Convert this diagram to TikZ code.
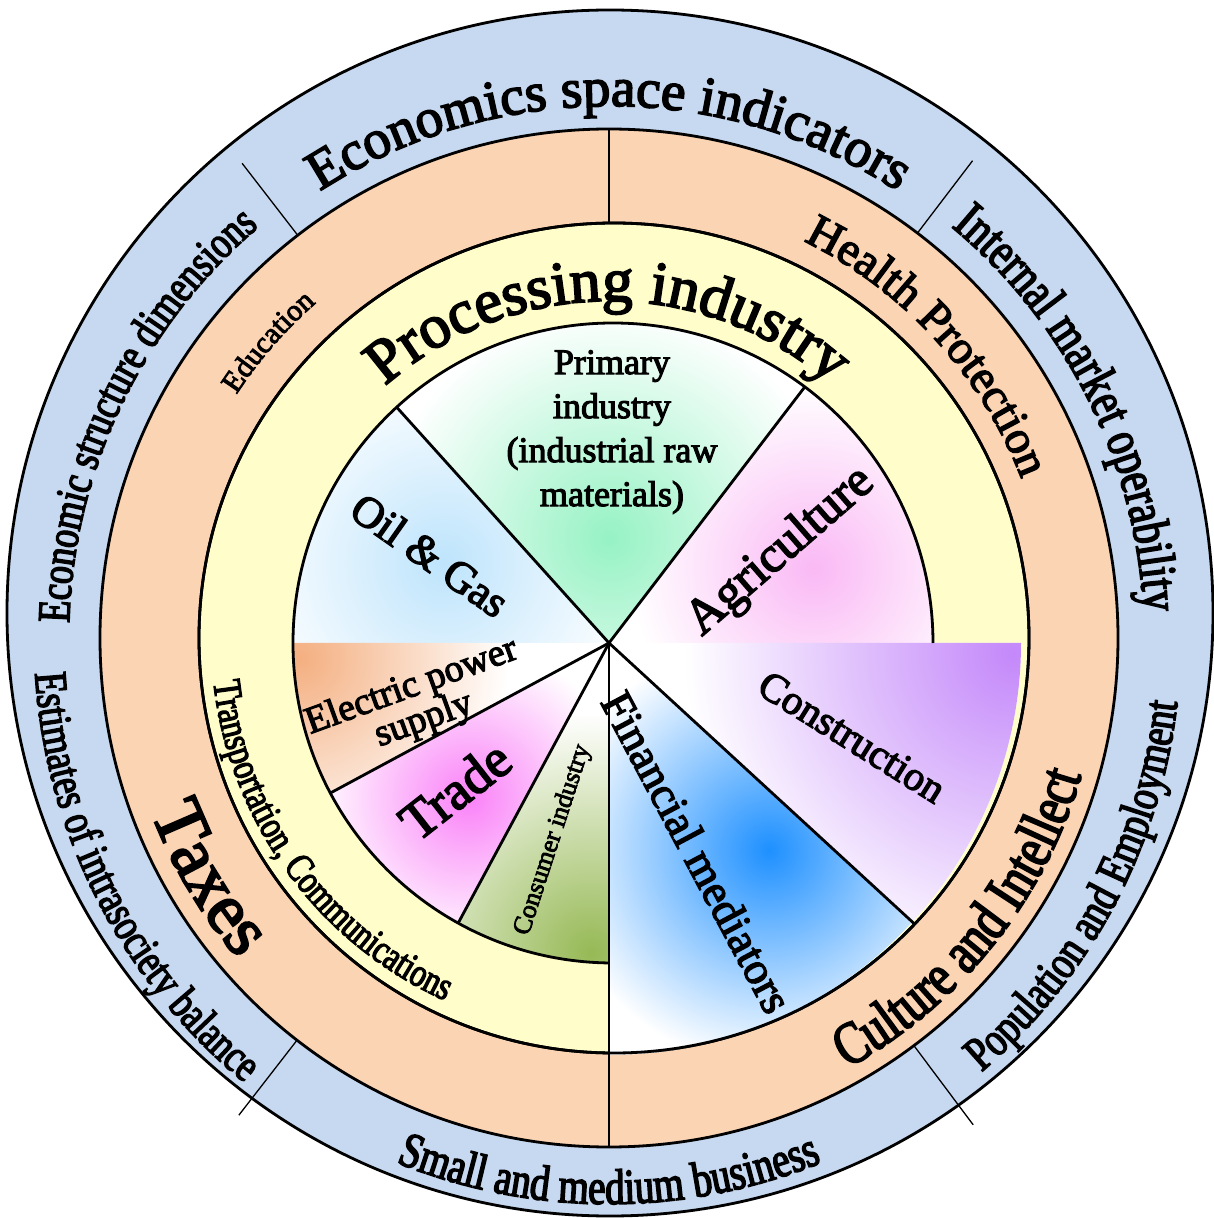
\documentclass[tikz,border=0pt]{standalone}
\usepackage{fontspec}
\setmainfont{Liberation Serif}[FakeBold=3]
\newfontfamily\narrowserif{Liberation Serif}[FakeStretch=0.78, FakeBold=3]
\usetikzlibrary{decorations.text, calc}

\definecolor{ringblue}{RGB}{198,217,240}
\definecolor{ringpeach}{RGB}{251,212,180}
\definecolor{ringyellow}{RGB}{255,253,202}
\definecolor{oilblue}{RGB}{190,228,252}
\definecolor{mintgreen}{RGB}{150,242,196}
\definecolor{agripink}{RGB}{250,185,245}
\definecolor{buildpurple}{RGB}{196,136,250}
\definecolor{financeblue}{RGB}{30,144,255}
\definecolor{oliveleaf}{RGB}{150,185,85}
\definecolor{trademagenta}{RGB}{250,130,248}
\definecolor{poweramber}{RGB}{244,175,128}

\begin{document}
\begin{tikzpicture}[x=1pt, y=1pt,
    ringline/.style={line width=2.8pt},
    sliceline/.style={line width=2.8pt},
    divider/.style={line width=1.3pt},
    arctext/.style={decorate, decoration={text along path, text align=center, text={#1}}},
    slicelabel/.style={font=\fontsize{#1}{#1}\selectfont, inner sep=0pt, align=center}]
    \useasboundingbox (-609,-580) rectangle (604,638);
    \coordinate (C) at (0,0);
    \coordinate (O) at (0,-5);
    \coordinate (Q) at (4,-5);
    \coordinate (Y) at (5,0);
    \coordinate (B) at (1,25);

    % rings
    \filldraw[ringline, fill=ringblue] (B) circle (603);
    \filldraw[ringline, fill=ringpeach] (C) circle (509);
    \filldraw[ringline, fill=ringyellow] (Y) circle (415);
    \fill[white] (Q) circle (320);
    \fill[white] (O) -- ++(-90:412) arc[start angle=-90, end angle=0, radius=412] -- cycle;

    % slices
    \begin{scope}
        \clip (Q) circle (320);
        \clip (O) -- ++(132:600) arc[start angle=132, end angle=180, radius=600] -- cycle;
        \shade[inner color=oilblue, outer color=white] (-165,75) circle (200);
    \end{scope}
    \begin{scope}
        \clip (Q) circle (320);
        \clip (O) -- ++(52.6:600) arc[start angle=52.6, end angle=132, radius=600] -- cycle;
        \shade[inner color=mintgreen, outer color=white] (0,100) circle (230);
    \end{scope}
    \begin{scope}
        \clip (Q) circle (320);
        \clip (O) -- ++(0:600) arc[start angle=0, end angle=52.6, radius=600] -- cycle;
        \shade[inner color=agripink, outer color=white] (205,70) circle (185);
    \end{scope}
    \begin{scope}
        \clip (O) -- ++(-42.6:412) arc[start angle=-42.6, end angle=0, radius=412] -- cycle;
        \shade[inner color=buildpurple, outer color=white] (405,-15) circle (330);
    \end{scope}
    \begin{scope}
        \clip (O) -- ++(-90:412) arc[start angle=-90, end angle=-42.6, radius=412] -- cycle;
        \shade[inner color=financeblue, outer color=white] (160,-212) circle (215);
    \end{scope}
    \begin{scope}
        \clip (Q) circle (320);
        \clip (O) -- ++(241.7:600) arc[start angle=241.7, end angle=270, radius=600] -- cycle;
        \shade[inner color=oliveleaf, outer color=white] (-18,-315) circle (240);
    \end{scope}
    \begin{scope}
        \clip (Q) circle (320);
        \clip (O) -- ++(208.3:600) arc[start angle=208.3, end angle=241.7, radius=600] -- cycle;
        \shade[inner color=trademagenta, outer color=white] (-140,-160) circle (155);
    \end{scope}
    \begin{scope}
        \clip (Q) circle (320);
        \clip (O) -- ++(180:600) arc[start angle=180, end angle=208.3, radius=600] -- cycle;
        \shade[inner color=poweramber, outer color=white] (-310,-20) circle (210);
    \end{scope}

    % lines
    \draw[ringline] (Y) circle (415);
    \draw[sliceline] (Q) ++(0:320) arc[start angle=0, end angle=269.3, radius=320];
    \draw[sliceline] (O) -- ++(132:317);
    \draw[sliceline] (O) -- ++(52.6:322);
    \draw[sliceline] (O) -- ++(-42.6:415);
    \draw[sliceline] (O) -- ++(241.7:318);
    \draw[sliceline] (O) -- ++(208.3:317);
    \draw[sliceline] (O) -- (0,-509);
    \draw[sliceline] (0,415) -- (0,509);
    \draw[divider] (127.7:509) -- (127.7:600);
    \draw[divider] (52.7:509) -- (52.7:600);
    \draw[divider] (232.2:509) -- (232.2:604);
    \draw[divider] (-53.2:509) -- (-53.2:608);

    % outer ring texts
    \path[arctext={|\fontsize{55}{55}\selectfont|Economics space indicators}] (150:532) arc[start angle=150, end angle=30, radius=532];
    \path[arctext={|\narrowserif\fontsize{53}{53}\selectfont|Internal market operability}] (75:535) arc[start angle=75, end angle=-22, radius=535];
    \path[arctext={|\narrowserif\fontsize{46}{46}\selectfont|Economic structure dimensions}] (205:540) arc[start angle=205, end angle=103.8, radius=540];
    \path[arctext={|\narrowserif\fontsize{46}{46}\selectfont|Estimates of intrasociety balance}] (155:575) arc[start angle=155, end angle=259.2, radius=575];
    \path[arctext={|\narrowserif\fontsize{48}{48}\selectfont|Population and Employment}] (-80:572) arc[start angle=-80, end angle=24.2, radius=572];
    \path[arctext={|\narrowserif\fontsize{50}{50}\selectfont|Small and medium business}] (220:566) arc[start angle=220, end angle=320, radius=566];

    % middle ring texts
    \path[arctext={|\fontsize{30}{30}\selectfont|Education}] (170:445) arc[start angle=170, end angle=108, radius=445];
    \path[arctext={|\fontsize{47}{47}\selectfont|Health Protection}] (85:442) arc[start angle=85, end angle=0, radius=442];
    \path[arctext={|\fontsize{72}{72}\selectfont|Taxes}] (180:490) arc[start angle=180, end angle=241.8, radius=490];
    \path[arctext={|\narrowserif\fontsize{60}{60}\selectfont|Culture and Intellect}] (-85:492) arc[start angle=-85, end angle=7.8, radius=492];

    % inner ring texts
    \path[arctext={|\fontsize{62}{62}\selectfont|Processing industry}] (150:337) arc[start angle=150, end angle=30.4, radius=337];
    \path[arctext={|\narrowserif\fontsize{40}{40}\selectfont|Transportation, Communications}] (170:398) arc[start angle=170, end angle=262, radius=398];

    % slice labels
    \node[font=\fontsize{36}{44}\selectfont, inner sep=0pt, align=center] (primary) at (3,206) {Primary\\industry\\(industrial raw\\materials)};
    \node[slicelabel=44, rotate=-35] (oilgas) at (-179,83) {Oil \& Gas};
    \node[slicelabel=50, rotate=41] (agriculture) at (172,86) {Agriculture};
    \node[font=\fontsize{38}{32}\selectfont, inner sep=0pt, align=center, rotate=20] (power) at (-191,-66) {Electric power\\supply};
    \node[slicelabel=54, rotate=38] (trade) at (-154,-152) {Trade};
    \node[slicelabel=26, rotate=72] (consumer) at (-56,-202) {Consumer industry};
    \node[slicelabel=45, rotate=-62] (finance) at (88,-214) {Financial mediators};
    \node[slicelabel=41, rotate=-32] (construction) at (243,-99) {Construction};
\end{tikzpicture}
\end{document}
